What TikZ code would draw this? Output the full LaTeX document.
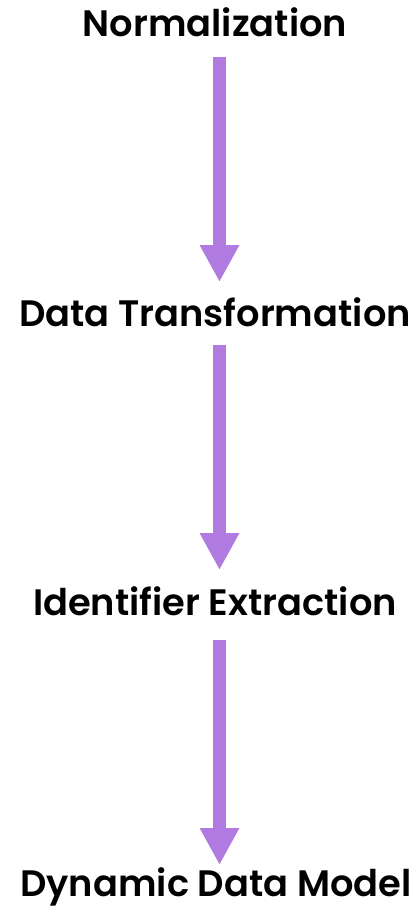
\documentclass[tikz,border=0pt]{standalone}
\usepackage{fontspec}
\setmainfont{Poppins}[BoldFont={* SemiBold}]
\usetikzlibrary{arrows.meta}
\definecolor{arrowpurple}{HTML}{B07AE0}
\tikzset{
  lbl/.style={font=\bfseries\fontsize{36.8}{44}\selectfont, text=black, inner sep=0pt, anchor=center},
  flow/.style={draw=arrowpurple, line width=13pt, -{Triangle[length=37pt,width=37pt]}}
}
\begin{document}
\begin{tikzpicture}[x=1pt,y=-1pt]
\useasboundingbox (0,0) rectangle (416,909);
\node[lbl] (n1) at (215,22) {Normalization};
\node[lbl] (n2) at (215,312) {Data Transformation};
\node[lbl] (n3) at (215,601) {Identifier Extraction};
\node[lbl] (n4) at (216,887) {Dynamic Data Model};
\coordinate (a1s) at (219.5,57);
\coordinate (a1e) at (219.5,282);
\coordinate (a2s) at (219.5,345);
\coordinate (a2e) at (219.5,570);
\coordinate (a3s) at (219.5,640);
\coordinate (a3e) at (219.5,865);
\draw[flow] (a1s) -- (a1e);
\draw[flow] (a2s) -- (a2e);
\draw[flow] (a3s) -- (a3e);
\end{tikzpicture}
\end{document}
